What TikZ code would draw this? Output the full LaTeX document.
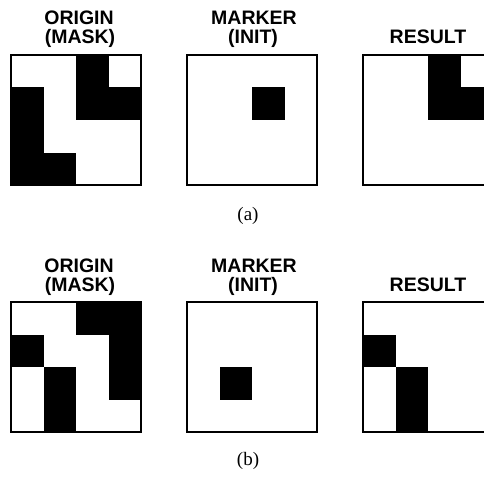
\documentclass[tikz,border=0pt]{standalone}
\usepackage{fontspec}
\setmainfont{Liberation Serif}
\setsansfont{Liberation Sans}
\newcommand\mygrid[3]{%
  \foreach \r/\c in {#3} {\fill[black] ({#1+\c*32.5},{#2+\r*32.5}) rectangle ++(32.5,32.5);}
  \draw[frame] (#1,#2) rectangle ++(130,130);}
\begin{document}
\begin{tikzpicture}[x=1pt,y=-1pt,
  lbl/.style={font=\sffamily\bfseries\fontsize{19.5}{19}\selectfont, anchor=base, inner sep=0pt},
  capt/.style={font=\fontsize{19}{19}\selectfont, anchor=base, inner sep=0pt},
  frame/.style={draw=black, line width=2.3pt}]
\useasboundingbox (0,0) rectangle (484,476);
\begin{scope}
\clip (0,0) rectangle (484,476);
% (a)
\node[lbl] (ao1) at (79,25) {ORIGIN};
\node[lbl] (ao2) at (80,44) {(MASK)};
\node[lbl] (am1) at (254,25) {MARKER};
\node[lbl] (am2) at (253,44) {(INIT)};
\node[lbl] (ar1) at (428,44) {RESULT};
\mygrid{11}{55}{0/2,1/0,1/2,1/3,2/0,3/0,3/1}
\mygrid{187}{55}{1/2}
\mygrid{363}{55}{0/2,1/2,1/3}
\node[capt] (ca) at (248,220) {(a)};
% (b)
\node[lbl] (bo1) at (79,272) {ORIGIN};
\node[lbl] (bo2) at (80,291) {(MASK)};
\node[lbl] (bm1) at (254,272) {MARKER};
\node[lbl] (bm2) at (253,291) {(INIT)};
\node[lbl] (br1) at (428,291) {RESULT};
\mygrid{11}{302}{0/2,0/3,1/0,1/3,2/1,2/3,3/1}
\mygrid{187}{302}{2/1}
\mygrid{363}{302}{1/0,2/1,3/1}
\node[capt] (cb) at (248,465) {(b)};
\end{scope}
\end{tikzpicture}
\end{document}
